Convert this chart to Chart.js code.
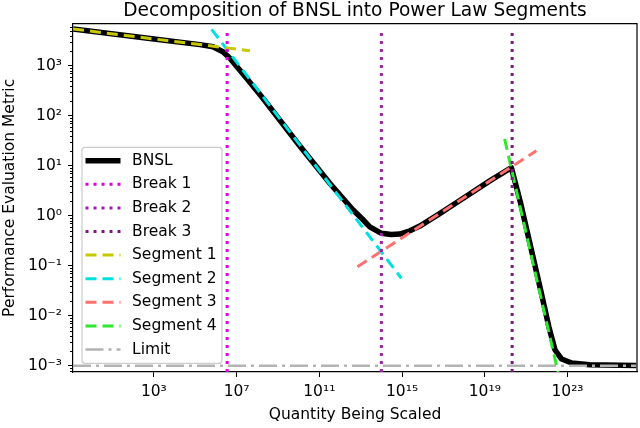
<!DOCTYPE html>
<html>
<head>
<meta charset="utf-8">
<title>BNSL decomposition</title>
<script src="https://cdn.jsdelivr.net/npm/chart.js@4.4.1/dist/chart.umd.min.js"></script>
<style>
    html, body { margin: 0; padding: 0; background: #fff; }
    #wrap { width: 640px; height: 428px; }
</style>
</head>
<body>
<div id="wrap"><canvas id="bnsl"></canvas></div>
<script>
// values (log-log axes)
const bnslX = [0.124, 646, 1.69e5, 7.2e5, 2.18e6, 4.74e6, 3.04e7, 1.87e8, 1.14e10, 3.2e11, 4.3e12, 1.2e13,
    2.75e13, 1.01e14, 3.0e14, 7.7e14, 2.4e15, 7.2e15, 6.6e16, 6.2e17, 1.74e19, 1.93e20,
    5.43e20, 1.65e21, 5.0e21, 1.25e22, 2.5e22, 5.2e22, 1.58e23, 1.17e24, 2.1e26];
const bnslY = [5420, 3500, 2640, 2400, 1905, 1406, 560, 223, 24.8, 4.45, 1.30, 0.86,
    0.60, 0.445, 0.42, 0.43, 0.50, 0.62, 1.1, 2.01, 4.97, 9.12,
    1.77, 0.24, 0.0327, 0.00603, 0.00206, 0.00136, 0.00113, 0.00105, 0.00101];

const breakX = [3.5e6, 1e14, 2.1e20];
const breakSpanY = [4500, 5e-4];

const seg1X = [0.124, 4.4e7];   const seg1Y = [5420, 1995];
const seg2X = [6.2e5, 9.3e14];  const seg2Y = [5350, 0.056];
const seg3X = [7.0e12, 3.1e21]; const seg3Y = [0.0955, 19.95];
const seg4X = [9.1e19, 3.8e22]; const seg4Y = [34.2, 6.3e-4];

const limitY = 1e-3;

const xRange = [0.123, 2.29e26];
const yRange = [7.48e-4, 6918];
const xTicks = [1e3, 1e7, 1e11, 1e15, 1e19, 1e23];
const yDecades = [-4, -3, -2, -1, 0, 1, 2, 3];

const FONT = 'DejaVu Sans';
const SUP = {'0': '⁰', '1': '¹', '2': '²', '3': '³', '4': '⁴', '5': '⁵', '6': '⁶', '7': '⁷', '8': '⁸', '9': '⁹', '-': '⁻'};
function powLabel(v) {
    const e = Math.round(Math.log10(v));
    return '10' + String(e).split('').map(c => SUP[c]).join('');
}
const pts = (xs, ys) => xs.map((x, i) => ({x: x, y: ys[i]}));

function line(label, data, color, width, dash, order) {
    return {
        label: label,
        data: data,
        showLine: true,
        borderColor: color,
        backgroundColor: color,
        borderWidth: width,
        borderDash: dash,
        borderCapStyle: 'butt',
        borderJoinStyle: 'round',
        pointRadius: 0,
        tension: 0,
        clip: 0,
        order: order
    };
}

const datasets = [
    line('BNSL', pts(bnslX, bnslY), '#000000', 5.5, [], 1),
    line('Break 1', pts([breakX[0], breakX[0]], breakSpanY), '#e000e0', 3, [3, 5], 0),
    line('Break 2', pts([breakX[1], breakX[1]], breakSpanY), '#a020b0', 3, [3, 5], 0),
    line('Break 3', pts([breakX[2], breakX[2]], breakSpanY), '#7a1a7a', 3, [3, 5], 0),
    line('Segment 1', pts(seg1X, seg1Y), '#c8c800', 3, [11, 6], 0),
    line('Segment 2', pts(seg2X, seg2Y), '#00e0e0', 3, [11, 6], 0),
    line('Segment 3', pts(seg3X, seg3Y), '#ff7070', 3, [11, 6], 0),
    line('Segment 4', pts(seg4X, seg4Y), '#2ee82e', 3, [11, 6], 0),
    line('Limit', pts(xRange, [limitY, limitY]), '#b3b3b3', 2.5, [18, 5, 3, 5], 0)
];

// box, minor y ticks and the legend inside the axes
const extras = {
    id: 'extras',
    afterDraw(chart) {
        const ctx = chart.ctx;
        const a = chart.chartArea;
        const ys = chart.scales.y;
        ctx.save();
        ctx.strokeStyle = '#000';
        ctx.lineWidth = 1.2;
        ctx.beginPath();
        ctx.moveTo(a.left, a.top); ctx.lineTo(a.right, a.top); ctx.lineTo(a.right, a.bottom);
        ctx.stroke();
        ctx.lineWidth = 1;
        ys.ticks.forEach(t => {
            if (t.major) return;
            const p = Math.round(ys.getPixelForValue(t.value)) + 0.5;
            ctx.beginPath(); ctx.moveTo(a.left, p); ctx.lineTo(a.left - 3, p); ctx.stroke();
        });

        const lx = a.left + 9, ly = 147.3, lw = 140, lh = 216;
        ctx.fillStyle = 'rgba(255,255,255,0.8)';
        ctx.strokeStyle = '#cccccc';
        ctx.lineWidth = 1.2;
        ctx.beginPath();
        ctx.roundRect(lx, ly, lw, lh, 3);
        ctx.fill(); ctx.stroke();
        chart.data.datasets.forEach((ds, i) => {
            const y = 160.7 + i * 23.6;
            ctx.beginPath();
            ctx.setLineDash(ds.borderDash);
            ctx.lineCap = 'butt';
            ctx.strokeStyle = ds.borderColor;
            ctx.lineWidth = ds.borderWidth;
            ctx.moveTo(lx + 3.5, y); ctx.lineTo(lx + 38.5, y);
            ctx.stroke();
            ctx.setLineDash([]);
            ctx.fillStyle = '#000';
            ctx.font = '15.5px "' + FONT + '"';
            ctx.textBaseline = 'middle';
            ctx.fillText(ds.label, lx + 50, y);
        });
        ctx.restore();
    }
};

const tickFont = {family: FONT, size: 15.5};

new Chart(document.getElementById('bnsl'), {
    type: 'scatter',
    data: {datasets: datasets},
    options: {
        responsive: true,
        maintainAspectRatio: false,
        animation: false,
        layout: {padding: {top: 0, right: 3, bottom: 0, left: 0}},
        plugins: {
            legend: {display: false},
            tooltip: {enabled: false},
            title: {
                display: true,
                text: 'Decomposition of BNSL into Power Law Segments',
                fullSize: false,
                color: '#000',
                font: {family: FONT, size: 18.6, weight: 'normal'},
                padding: {top: 0, bottom: 1.4}
            }
        },
        scales: {
            x: {
                type: 'logarithmic',
                min: xRange[0],
                max: xRange[1],
                afterBuildTicks: s => { s.ticks = xTicks.map(v => ({value: v, major: true})); },
                afterFit: s => { s.height = 56; },
                ticks: {autoSkip: false, maxRotation: 0, padding: 6, color: '#000', font: tickFont,
                    callback: v => powLabel(v)},
                grid: {drawOnChartArea: false, tickLength: 5, tickColor: '#000', tickWidth: 1},
                border: {color: '#000', width: 1.2},
                title: {display: true, text: 'Quantity Being Scaled', color: '#000', font: tickFont,
                    padding: {top: 0, bottom: 4}}
            },
            y: {
                type: 'logarithmic',
                min: yRange[0],
                max: yRange[1],
                afterBuildTicks: s => {
                    const t = [];
                    yDecades.forEach(e => {
                        for (let k = 1; k < 10; k++) {
                            const v = k * Math.pow(10, e);
                            if (v >= yRange[0] && v <= yRange[1]) t.push({value: v, major: k === 1});
                        }
                    });
                    s.ticks = t;
                },
                afterFit: s => { s.width = 73; },
                ticks: {autoSkip: false, padding: 6, color: '#000', font: tickFont,
                    callback: (v, i, ticks) => ticks[i].major ? powLabel(v) : ''},
                grid: {drawOnChartArea: false, tickLength: 5, tickWidth: 1,
                    tickColor: c => (c.tick && c.tick.major) ? '#000' : 'rgba(0,0,0,0)'},
                border: {color: '#000', width: 1.2},
                title: {display: true, text: 'Performance Evaluation Metric', color: '#000', font: tickFont,
                    padding: {top: 1, bottom: 0}}
            }
        }
    },
    plugins: [extras]
});
</script>
</body>
</html>
